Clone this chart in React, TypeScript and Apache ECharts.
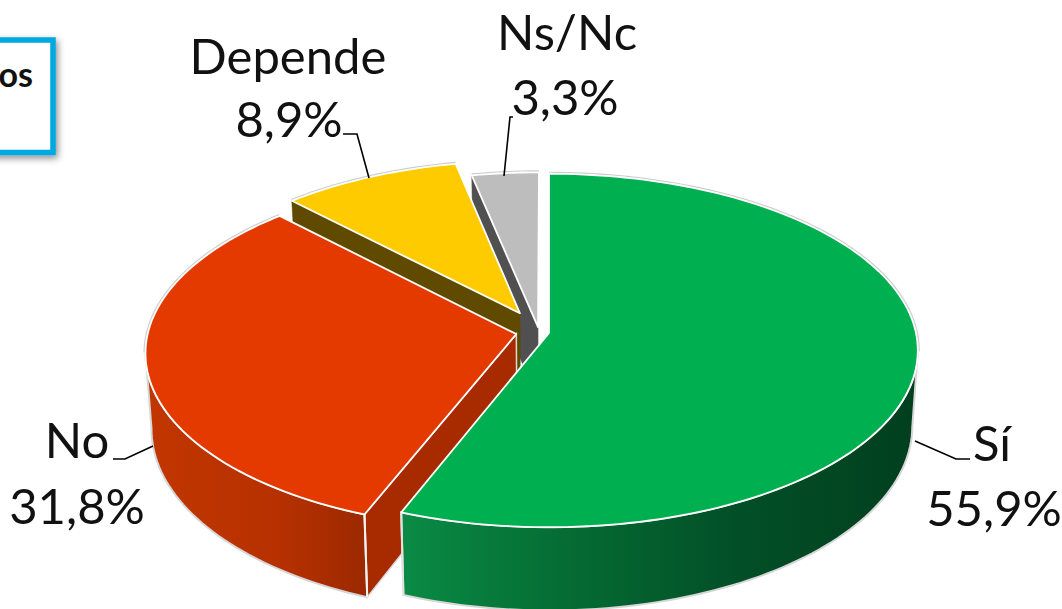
import React, { useEffect, useRef } from "react";
import * as echarts from "echarts";

const categories = ["Sí", "No", "Depende", "Ns/Nc"];
const values = [55.9, 31.8, 8.9, 3.3];
const percentLabels = ["55,9%", "31,8%", "8,9%", "3,3%"];
const boxText = "os";

const CX = 549, CY = 333, RX = 367, RY = 175, K = 0.099, DEPTH = 75, LOWER = 0.985;
const FONT = "Lato";
const drawOrder = [3, 2, 1, 0];
const explodeU = [0, -0.089, -0.08, -0.03];
const explodeV = [0, 0.006, -0.114, -0.034];
const rimScale = [1, 1.004, 0.976, 0.976];
const topColors = ["#00AF50", "#E43A00", "#FDCB00", "#BDBDBD"];
const radialWallColors = [null, "#A82B00", "#5F4A00", "#505050"];
const sideStops = [
  [[0, "#0A8B45"], [0.3, "#056E34"], [0.65, "#024F27"], [1, "#013F1E"]],
  [[0, "#C23600"], [0.6, "#B63100"], [1, "#9C2900"]],
  null,
  null,
];
const labelSpots = [
  { name: [992, 442], pct: [994, 507] },
  { name: [77, 439], pct: [77, 505] },
  { name: [288, 55], pct: [289, 118] },
  { name: [567, 31], pct: [565, 96] },
];
const leaders = [
  [[915, 441], [956, 459], [970, 459]],
  [[153, 446], [125, 459], [113, 459]],
  [[369, 178], [357, 134], [343, 134]],
  [[504, 176], [510, 117], [513, 117]],
];

const total = values.reduce((a, b) => a + b, 0);
const startAngles: number[] = [];
values.reduce((acc, v, i) => {
  startAngles[i] = acc;
  return acc + (v / total) * 360;
}, 0);

function top(i: number, deg: number, r: number) {
  const a = (deg * Math.PI) / 180;
  const u = explodeU[i] + r * Math.sin(a);
  const v = explodeV[i] - r * Math.cos(a);
  const s = 1 / (1 - K * v);
  return [CX + RX * u * s, CY + RY * v * s];
}
function bottom(i: number, deg: number, r: number) {
  const a = (deg * Math.PI) / 180;
  const u = explodeU[i] + r * Math.sin(a);
  const v = explodeV[i] - r * Math.cos(a);
  const s = 1 / (1 - K * v);
  return [CX + RX * u * s * LOWER, CY + RY * v * s + DEPTH * s];
}
function arc(fn: typeof top, i: number, a1: number, a2: number, r: number) {
  const pts: number[][] = [];
  const n = Math.max(2, Math.ceil(Math.abs(a2 - a1) / 1.5));
  for (let j = 0; j <= n; j++) pts.push(fn(i, a1 + ((a2 - a1) * j) / n, r));
  return pts;
}

function renderSlice(params: any) {
  const i = drawOrder[params.dataIndex];
  const a1 = startAngles[i];
  const a2 = a1 + (values[i] / total) * 360;
  const r = rimScale[i];
  const children: any[] = [];

  // back rim halo
  const backParts: number[][] = [[Math.max(a1, 264), Math.max(a2, 264)], [Math.min(a1, 96), Math.min(a2, 96)]];
  backParts.forEach(([b1, b2]) => {
    if (b2 - b1 > 0.1) {
      children.push({
        type: "polyline",
        shape: { points: arc(top, i, b1, b2, r) },
        style: { fill: "none", stroke: "#cdcdcd", lineWidth: 4 },
      });
    }
  });

  // radial wall on the slice's start side for the slices that face the viewer
  const wall = radialWallColors[i];
  if (wall) {
    const poly = [top(i, a1, 0), top(i, a1, r), bottom(i, a1, r), bottom(i, a1, 0)];
    children.push({
      type: "polygon",
      shape: { points: poly },
      style: { fill: wall, stroke: i === 1 ? "#d9d9d9" : wall, lineWidth: i === 1 ? 1.5 : 0.5 },
    });
  }

  // outer curved wall
  const stops = sideStops[i];
  if (stops) {
    const s1 = i === 0 ? Math.max(a1, 96) : a1;
    const s2 = i === 1 ? Math.min(a2, 264) : a2;
    const poly = [...arc(top, i, s1, s2, r), ...arc(bottom, i, s2, s1, r)];
    children.push({
      type: "polygon",
      shape: { points: poly },
      style: {
        fill: new echarts.graphic.LinearGradient(
          0, 0, 1, 0,
          stops.map(([offset, color]) => ({ offset: offset as number, color: color as string }))
        ),
        stroke: "#d6d6d6",
        lineWidth: 2,
      },
    });
    const edge = i === 0 ? s2 : s1;
    children.push({
      type: "line",
      shape: { x1: top(i, edge, r)[0], y1: top(i, edge, r)[1], x2: bottom(i, edge, r)[0], y2: bottom(i, edge, r)[1] },
      style: { stroke: i === 0 ? "#e2e2e2" : "#f4f4f4", lineWidth: 2 },
    });
  }

  // top face
  const face = [top(i, a1, 0), ...arc(top, i, a1, a2, r)];
  children.push({
    type: "polygon",
    shape: { points: face },
    style: { fill: topColors[i], stroke: "#ffffff", lineWidth: 1.8, lineJoin: "round" },
  });

  // leader line and labels
  children.push({
    type: "polyline",
    shape: { points: leaders[i] },
    style: { fill: "none", stroke: "#000000", lineWidth: 1.6 },
  });
  const spot = labelSpots[i];
  children.push({
    type: "text",
    style: { text: categories[i], x: spot.name[0], y: spot.name[1], fill: "#111", fontFamily: FONT, fontSize: 49, textAlign: "center", verticalAlign: "middle" },
  });
  children.push({
    type: "text",
    style: { text: percentLabels[i], x: spot.pct[0], y: spot.pct[1], fill: "#111", fontFamily: FONT, fontSize: 49, textAlign: "center", verticalAlign: "middle" },
  });
  return { type: "group", children };
}

export default function App() {
  const ref = useRef<HTMLDivElement>(null);
  useEffect(() => {
    document.body.style.margin = "0";
    document.body.style.background = "#fff";
    const chart = echarts.init(ref.current!, undefined, { renderer: "svg" });
    chart.setOption({
      animation: false,
      backgroundColor: "#ffffff",
      graphic: [
        {
          type: "rect",
          z: 10,
          shape: { x: -30, y: 40, width: 83, height: 112.5 },
          style: {
            fill: "#ffffff",
            stroke: "#00A8E0",
            lineWidth: 5.5,
            shadowBlur: 7,
            shadowColor: "rgba(0,0,0,0.45)",
            shadowOffsetX: 2,
            shadowOffsetY: 3,
          },
        },
        {
          type: "text",
          z: 11,
          style: { text: boxText, x: 33, y: 73, fill: "#111", fontFamily: FONT, fontWeight: "bold", fontSize: 34, textAlign: "right", verticalAlign: "middle" },
        },
      ],
      series: [
        {
          type: "custom",
          coordinateSystem: "none",
          renderItem: renderSlice,
          data: drawOrder.map((i) => ({ name: categories[i], value: values[i] })),
        },
      ],
    });
    return () => chart.dispose();
  }, []);
  return <div ref={ref} style={{ position: "fixed", left: 0, top: 0, width: 1062, height: 609 }} />;
}
